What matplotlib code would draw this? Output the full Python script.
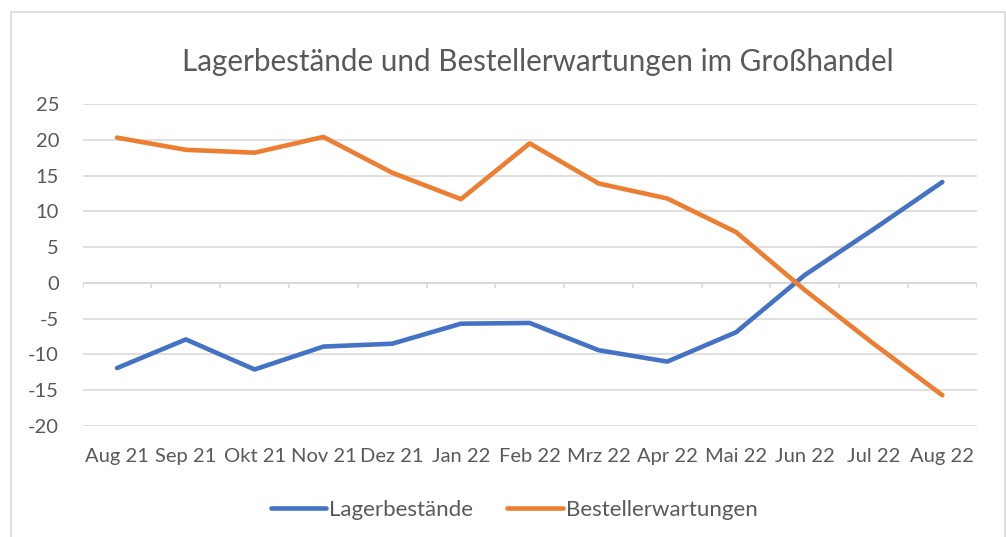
import numpy as np
import matplotlib.pyplot as plt
from matplotlib.patches import Rectangle

# Months on the x axis
months = ['Aug 21', 'Sep 21', 'Okt 21', 'Nov 21', 'Dez 21', 'Jan 22', 'Feb 22',
          'Mrz 22', 'Apr 22', 'Mai 22', 'Jun 22', 'Jul 22', 'Aug 22']

# Series values (balance)
lager = [-11.9, -7.9, -12.1, -8.9, -8.5, -5.7, -5.6,
         -9.4, -11.0, -6.9, 1.1, 7.5, 14.1]
bestell = [20.3, 18.6, 18.2, 20.4, 15.4, 11.7, 19.5,
           13.9, 11.8, 7.1, -1.0, -8.5, -15.7]

yticks = [-20, -15, -10, -5, 0, 5, 10, 15, 20, 25]

text_col = '#595959'
grid_col = '#D9D9D9'
plt.rcParams['font.family'] = ['Lato', 'DejaVu Sans']
plt.rcParams['axes.unicode_minus'] = False

fig = plt.figure(figsize=(10.06, 5.37), dpi=100)
ax = fig.add_axes([0.0822, 0.2067, 0.8887, 0.5996])

# Outer chart border
fig.patches.append(Rectangle((11 / 1006, -0.01), (1005 - 11) / 1006, 1 - 12 / 537 + 0.01,
                             transform=fig.transFigure, fill=False,
                             edgecolor=grid_col, linewidth=1.2))

x = np.arange(len(months))
ax.plot(x, lager, color='#4472C4', linewidth=3.3, label='Lagerbestände',
        solid_capstyle='round', solid_joinstyle='round', zorder=3)
ax.plot(x, bestell, color='#ED7D31', linewidth=3.3, label='Bestellerwartungen',
        solid_capstyle='round', solid_joinstyle='round', zorder=3)

ax.set_xlim(-0.5, len(months) - 0.5)
ax.set_ylim(-20, 25)
ax.set_yticks(yticks)
ax.grid(axis='y', color=grid_col, linewidth=1.2)
ax.set_axisbelow(True)
for s in ax.spines.values():
    s.set_visible(False)

# Category axis line at zero with tick marks between categories
ax.axhline(0, color=grid_col, linewidth=1.2, zorder=2)
ax.vlines(np.arange(len(months) + 1) - 0.5, -0.75, 0, color=grid_col,
          linewidth=1.2, zorder=2)

ax.set_xticks(x, months)
ax.tick_params(axis='x', length=0, pad=16, labelsize=14.5, labelcolor=text_col)
ax.tick_params(axis='y', length=0, pad=17, labelsize=14.5, labelcolor=text_col)

fig.text(0.535, 1 - 62 / 537, 'Lagerbestände und Bestellerwartungen im Großhandel',
         ha='center', va='center', fontsize=21.3, color=text_col)

leg = fig.legend(loc='center', bbox_to_anchor=(0.511, 1 - 510 / 537), ncol=2,
                 frameon=False, fontsize=16, handlelength=2.5,
                 columnspacing=1.55, handletextpad=0.12)
for t in leg.get_texts():
    t.set_color(text_col)

fig.savefig('out.png', dpi=100)
